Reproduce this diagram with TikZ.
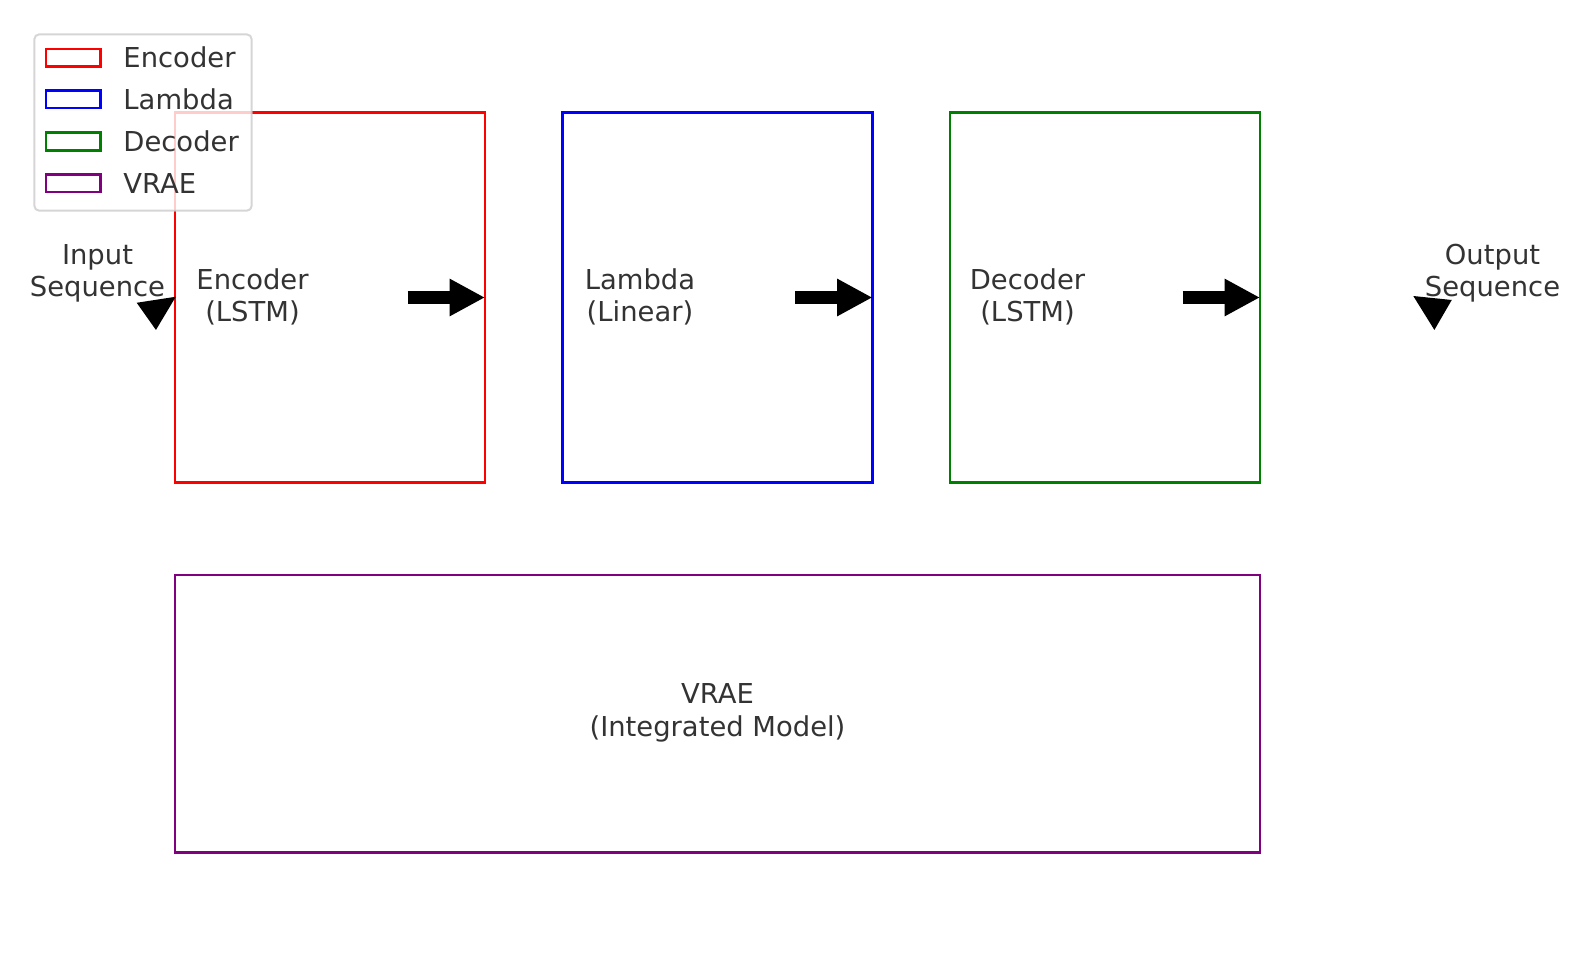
\documentclass[tikz,border=0pt]{standalone}
\usepackage{fontspec}
\setmainfont{DejaVu Sans}
\usetikzlibrary{arrows.meta}
\definecolor{txtgray}{HTML}{333333}
\definecolor{vgreen}{HTML}{008000}
\definecolor{vpurple}{HTML}{800080}

\begin{document}
\begin{tikzpicture}[x=77.5pt,y=46.25pt,
  block/.style={draw, line width=1.35pt, minimum width=155pt, minimum height=185pt, inner sep=0pt, outer sep=0pt},
  lbl/.style={text=txtgray, align=center, font=\fontsize{13.7}{16.1}\selectfont},
  flow/.style={line width=6.3pt, -{Triangle[length=17.7pt,width=17.5pt]}},
  legpatch/.style={draw, line width=1.35pt, minimum width=27.4pt, minimum height=8.9pt, inner sep=0pt, outer sep=0pt},
  legtext/.style={text=txtgray, anchor=base west, inner sep=0pt, font=\fontsize{13.7}{16.1}\selectfont}]
\useasboundingbox (-10pt,-9.5pt) rectangle (784.5pt,472.5pt);

%Encoder block
\node[block, draw=red] (enc) at (2,7) {};
%Lambda block
\node[block, draw=blue] (lam) at (4.5,7) {};
%Decoder block
\node[block, draw=vgreen] (dec) at (7,7) {};
%VRAE block
\node[block, draw=vpurple, minimum width=542.5pt, minimum height=138.75pt] (vrae) at (4.5,2.5) {};

%Block labels
\node[lbl] (enc-lbl) at (1.5,7.01) {Encoder\\(LSTM)};
\node[lbl] (lam-lbl) at (4,7.01) {Lambda\\(Linear)};
\node[lbl] (dec-lbl) at (6.5,7.01) {Decoder\\(LSTM)};
\node[lbl] (vrae-lbl) at (4.5,2.51) {VRAE\\(Integrated Model)};
\node[lbl] (in-lbl) at (0.5,7.26) {Input\\Sequence};
\node[lbl] (out-lbl) at (9.5,7.26) {Output\\Sequence};

%Arrows
\coordinate (enc-tail) at (2.5,7);
\draw[flow] (enc-tail) -- (enc.east);
\coordinate (lam-tail) at (5,7);
\draw[flow] (lam-tail) -- (lam.east);
\coordinate (dec-tail) at (7.5,7);
\draw[flow] (dec-tail) -- (dec.east);

%Input / output heads
\fill (0.753,6.943) -- (1.005,7.008) -- (0.877,6.649) -- cycle;
\fill (8.989,7.016) -- (9.237,6.973) -- (9.125,6.649) -- cycle;

%Legend
\node[draw=black!20, draw opacity=0.8, fill=white, fill opacity=0.8, rounded corners=2.5pt, line width=1pt, minimum width=108.7pt, minimum height=88.2pt] (legend) at (0.7936,8.8915) {};
\node[legpatch, draw=red] (leg-enc) at (0.3445,9.591) {};
\node[legtext] (leg-enc-txt) at (0.665,9.483) {Encoder};
\node[legpatch, draw=blue] (leg-lam) at (0.3445,9.144) {};
\node[legtext] (leg-lam-txt) at (0.665,9.036) {Lambda};
\node[legpatch, draw=vgreen] (leg-dec) at (0.3445,8.689) {};
\node[legtext] (leg-dec-txt) at (0.665,8.581) {Decoder};
\node[legpatch, draw=vpurple] (leg-vrae) at (0.3445,8.236) {};
\node[legtext] (leg-vrae-txt) at (0.665,8.128) {VRAE};
\end{tikzpicture}
\end{document}
